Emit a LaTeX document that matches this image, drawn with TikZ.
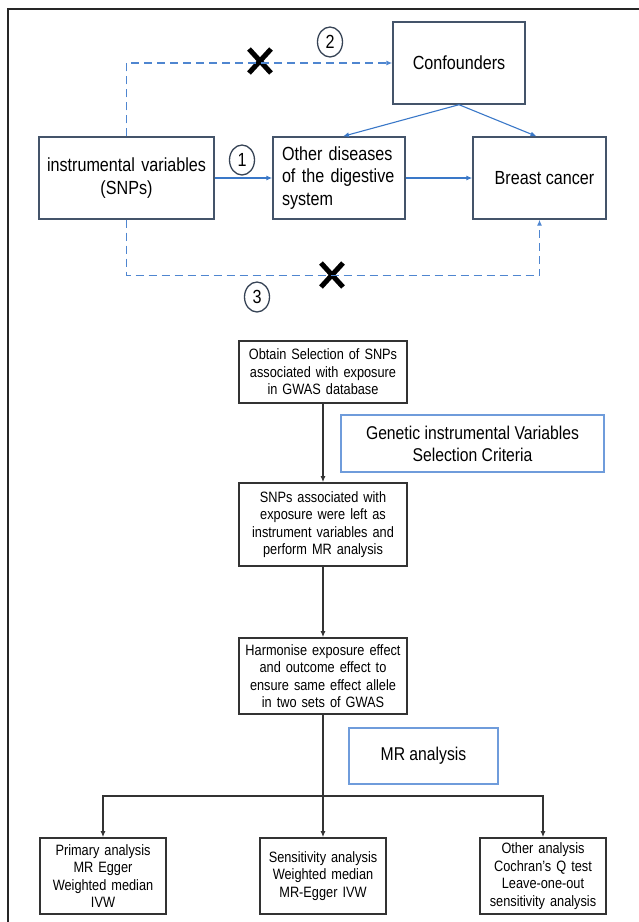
\documentclass[tikz,border=0pt]{standalone}
\usepackage{fontspec}
\setmainfont{Liberation Sans}[FakeStretch=0.85]
\usetikzlibrary{arrows.meta, shapes.geometric, shapes.misc}
\definecolor{slate}{HTML}{44546A}
\definecolor{linkblue}{HTML}{3A78C8}
\definecolor{dashblue}{HTML}{4F86D0}
\definecolor{paleblue}{HTML}{6F9CDB}
\definecolor{flowgray}{HTML}{333333}

\begin{document}
\begin{tikzpicture}[x=1pt, y=-1pt, >={Latex[length=6pt,width=5pt]},
  topbox/.style={draw=slate, line width=1.4pt, inner sep=0pt, minimum height=82pt, font=\fontsize{19}{22.5}\selectfont},
  flowbox/.style={draw=flowgray, line width=1.6pt, inner sep=0pt, text width=160pt, minimum width=168pt, align=center, font=\fontsize{15}{17.5}\selectfont},
  resbox/.style={draw=flowgray, line width=1.6pt, inner sep=0pt, text width=120pt, minimum width=126pt, minimum height=76pt, align=center, font=\fontsize{15}{17.5}\selectfont},
  notebox/.style={draw=paleblue, line width=1.4pt, inner sep=0pt, align=center, font=\fontsize{18.5}{22}\selectfont},
  numring/.style={ellipse, draw=slate!80!black, line width=1.3pt, inner sep=0pt, minimum width=25pt, minimum height=30pt, font=\fontsize{19}{19}\selectfont},
  nopath/.style={cross out, draw=black, line width=5pt, minimum width=17pt, minimum height=19pt},
  solidlink/.style={draw=linkblue, line width=1.1pt, ->},
  dashlink/.style={draw=dashblue, line width=1.4pt, dash pattern=on 8pt off 5pt, ->},
  flowlink/.style={draw=flowgray, line width=1.4pt, ->}]
\useasboundingbox (0,0) rectangle (639,922);
\draw[line width=1.5pt, black!85] (8,922) -- (8,9) -- (639,9);

% panel A
\node[topbox, minimum width=175pt, text width=165pt, align=center] (iv) at (126.5,178) {instrumental variables\\(SNPs)};
\node[topbox, minimum width=132pt, text width=114pt, align=left] (od) at (339,178) {Other diseases\\of the digestive\\system};
\node[topbox, minimum width=133pt] (bc) at (539.5,178) {\hspace{10pt}Breast cancer};
\node[topbox, minimum width=132pt] (conf) at (459,63) {Confounders};

\node[numring] (n1) at (242,160) {1};
\node[numring] (n2) at (330,42) {2};
\node[numring] (n3) at (257,297) {3};
\node[nopath] (x2) at (260,61) {};
\node[nopath] (x3) at (332,275) {};

\draw[solidlink] (iv.east) -- (od.west);
\draw[solidlink] (od.east) -- (bc.west);
\draw[solidlink] (conf.south) -- ([xshift=4pt]od.north);
\draw[solidlink] (conf.south) -- ([xshift=-3pt]bc.north);
\draw[dashlink] (iv.north) |- (conf.west);
\draw[dashlink] (iv.south) -- ++(0,56) -| (bc.south);

% panel B
\node[flowbox, minimum height=62pt] (obtain) at (323,372) {Obtain Selection of SNPs\\associated with exposure\\in GWAS database};
\node[flowbox, minimum height=83pt] (left) at (323,524.5) {SNPs associated with\\exposure were left as\\instrument variables and\\perform MR analysis};
\node[flowbox, minimum height=76pt] (harm) at (323,676) {Harmonise exposure effect\\and outcome effect to\\ensure same effect allele\\in two sets of GWAS};
\node[notebox, minimum width=263pt, minimum height=57pt] (crit) at (472.5,443.5) {Genetic instrumental Variables\\Selection Criteria};
\node[notebox, minimum width=149pt, minimum height=56pt] (mr) at (423.5,756) {MR analysis};

\node[resbox] (prim) at (103,876) {Primary analysis\\MR Egger\\Weighted median\\IVW};
\node[resbox] (sens) at (323,876) {Sensitivity analysis\\Weighted median\\MR-Egger IVW};
\node[resbox] (other) at (543,876) {Other analysis\\Cochran's Q test\\Leave-one-out\\sensitivity analysis};

\coordinate (split) at (323,796);
\draw[flowlink] (obtain) -- (left);
\draw[flowlink] (left) -- (harm);
\draw[flowlink] (harm) -- (sens);
\draw[flowlink] (split) -| (prim.north);
\draw[flowlink] (split) -| (other.north);
\end{tikzpicture}
\end{document}
